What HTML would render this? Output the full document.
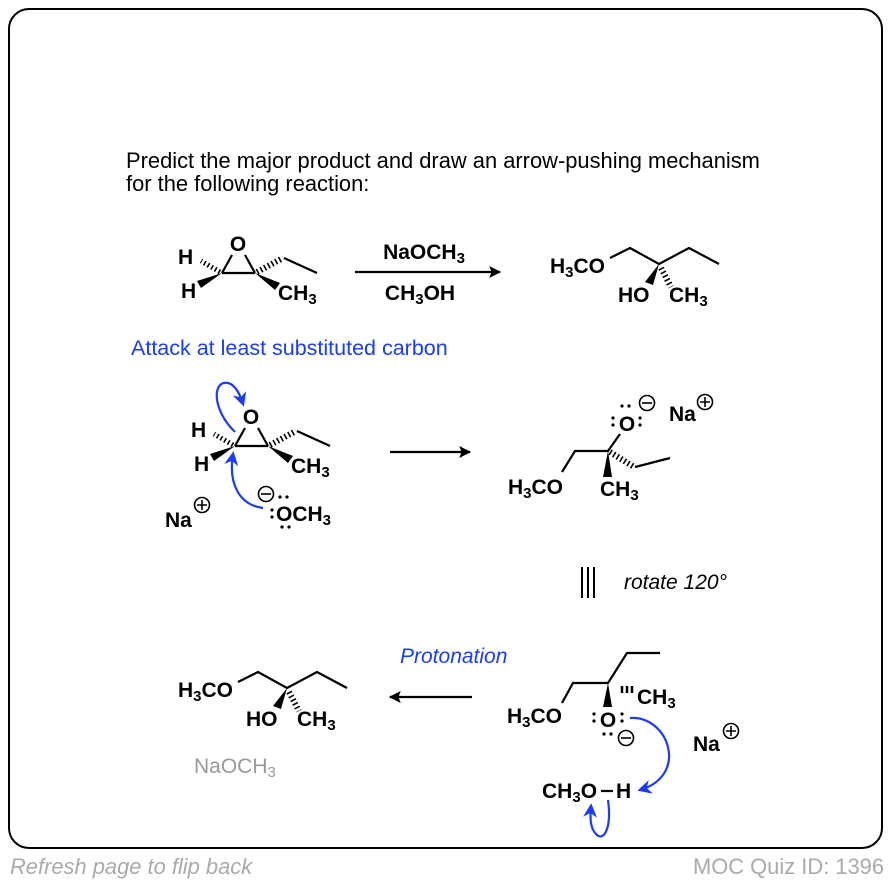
<!DOCTYPE html>
<html><head><meta charset="utf-8"><style>
html,body{margin:0;padding:0;background:#fff}
svg{display:block}
text{font-family:"Liberation Sans",Arial,sans-serif}
.b{font-weight:bold;font-size:21px;fill:#000}
.s{font-size:15px}
</style></head><body>
<svg width="890" height="882" viewBox="0 0 890 882" xmlns="http://www.w3.org/2000/svg">
<defs>
<marker id="ah" viewBox="0 0 10 10" refX="9" refY="5" markerWidth="16" markerHeight="12" orient="auto" markerUnits="userSpaceOnUse"><path d="M0,0 L10,5 L0,10 L2,5 z" fill="#000"/></marker>
<marker id="bh" viewBox="0 0 10 10" refX="8" refY="5" markerWidth="14" markerHeight="14" orient="auto" markerUnits="userSpaceOnUse"><path d="M0,0 L10,5 L0,10 L3,5 z" fill="#1a3cf5"/></marker>
<g id="epox">
<line x1="235" y1="446" x2="268" y2="446" stroke="#000" stroke-width="2.2"/>
<line x1="235" y1="446" x2="245" y2="428" stroke="#000" stroke-width="2.2"/>
<line x1="268" y1="446" x2="258" y2="428" stroke="#000" stroke-width="2.2"/>
<text x="251" y="424" class="b" text-anchor="middle">O</text>
<path d="M233,445 L214,434" stroke="#000" stroke-width="5" stroke-dasharray="1.6,2.6"/>
<polygon points="235,446 210,454 214,461" fill="#000"/>
<text x="191" y="437" class="b">H</text>
<text x="194" y="471" class="b">H</text>
<path d="M270,445 L296,431" stroke="#000" stroke-width="6" stroke-dasharray="1.6,2.6"/>
<line x1="297" y1="431" x2="330" y2="446" stroke="#000" stroke-width="2.2"/>
<polygon points="268,446 293,456 288,463" fill="#000"/>
<text x="291" y="473" class="b">CH<tspan class="s" dy="4">3</tspan></text>
</g>
<g id="prod">
<text x="178" y="697" class="b">H<tspan class="s" dy="4">3</tspan><tspan dy="-4">CO</tspan></text>
<polyline points="238,682 258,672 287,688 317,672 347,688" fill="none" stroke="#000" stroke-width="2.2"/>
<polygon points="287,688 273,706 281,709" fill="#000"/>
<path d="M289,692 L299,711" stroke="#000" stroke-width="6" stroke-dasharray="1.6,2.6"/>
<text x="246" y="726" class="b">HO</text>
<text x="297" y="726" class="b">CH<tspan class="s" dy="4">3</tspan></text>
</g>
</defs>
<rect x="9" y="9" width="873" height="839" rx="20" fill="none" stroke="#000" stroke-width="2"/>
<text x="126" y="168" font-size="21.9">Predict the major product and draw an arrow-pushing mechanism</text>
<text x="126" y="191" font-size="21.9">for the following reaction:</text>

<use href="#epox" transform="translate(-13,-173)"/>
<line x1="355" y1="272" x2="500" y2="272" stroke="#000" stroke-width="2.2" marker-end="url(#ah)"/>
<text x="424" y="259" class="b" text-anchor="middle">NaOCH<tspan class="s" dy="4">3</tspan></text>
<text x="420" y="300" class="b" text-anchor="middle">CH<tspan class="s" dy="4">3</tspan><tspan dy="-4">OH</tspan></text>
<use href="#prod" transform="translate(372,-424)"/>

<text x="131" y="355" font-size="21.5" fill="#1a3cf5">Attack at least substituted carbon</text>

<use href="#epox"/>
<path d="M235,432 C212,410 212,380 228,383 C236,385 240,395 243,404" fill="none" stroke="#1a3cf5" stroke-width="2.2" marker-end="url(#bh)"/>
<path d="M263,508 C240,505 228,485 233,454" fill="none" stroke="#1a3cf5" stroke-width="2.2" marker-end="url(#bh)"/>
<text x="165" y="527" class="b">Na</text>
<circle cx="202" cy="505" r="7.5" fill="none" stroke="#000" stroke-width="1.6"/><path d="M197,505h10M202,500v10" stroke="#000" stroke-width="1.6"/>
<circle cx="266" cy="494" r="7.5" fill="none" stroke="#000" stroke-width="1.6"/><path d="M261,494h10" stroke="#000" stroke-width="1.6"/>
<g fill="#000"><circle cx="280" cy="497" r="1.6"/><circle cx="287" cy="497" r="1.6"/><circle cx="272" cy="510" r="1.6"/><circle cx="272" cy="517" r="1.6"/><circle cx="282" cy="527" r="1.6"/><circle cx="289" cy="527" r="1.6"/></g>
<text x="276" y="521" class="b">OCH<tspan class="s" dy="4">3</tspan></text>

<line x1="390" y1="452" x2="470" y2="452" stroke="#000" stroke-width="2.2" marker-end="url(#ah)"/>

<text x="627" y="431" class="b" text-anchor="middle">O</text>
<g fill="#000"><circle cx="613" cy="418" r="1.6"/><circle cx="613" cy="425" r="1.6"/><circle cx="622" cy="406" r="1.6"/><circle cx="629" cy="406" r="1.6"/><circle cx="640" cy="418" r="1.6"/><circle cx="640" cy="425" r="1.6"/></g>
<circle cx="647" cy="403" r="7.5" fill="none" stroke="#000" stroke-width="1.6"/><path d="M642,403h10" stroke="#000" stroke-width="1.6"/>
<text x="669" y="421" class="b">Na</text>
<circle cx="705" cy="402" r="7.5" fill="none" stroke="#000" stroke-width="1.6"/><path d="M700,402h10M705,397v10" stroke="#000" stroke-width="1.6"/>
<polyline points="562,472 575,451 608,451 620,434" fill="none" stroke="#000" stroke-width="2.2"/>
<polygon points="608,451 603,477 612,477" fill="#000"/>
<path d="M610,452 L634,467" stroke="#000" stroke-width="6" stroke-dasharray="1.6,2.6"/>
<line x1="635" y1="467" x2="670" y2="458" stroke="#000" stroke-width="2.2"/>
<text x="508" y="494" class="b">H<tspan class="s" dy="4">3</tspan><tspan dy="-4">CO</tspan></text>
<text x="600" y="496" class="b">CH<tspan class="s" dy="4">3</tspan></text>

<path d="M582,567v31M588,567v31M594,567v31" stroke="#000" stroke-width="2"/>
<text x="624" y="589" font-size="21" font-style="italic">rotate 120°</text>

<text x="400" y="663" font-size="21" font-style="italic" fill="#1a3cf5">Protonation</text>
<use href="#prod"/>
<text x="194" y="773" font-size="21" fill="#999">NaOCH<tspan font-size="15" dy="4">3</tspan></text>
<line x1="472" y1="697" x2="390" y2="697" stroke="#000" stroke-width="2.2" marker-end="url(#ah)"/>

<polyline points="562,703 573,683 608,683 627,653 660,653" fill="none" stroke="#000" stroke-width="2.2"/>
<polygon points="608,683 603,707 612,707" fill="#000"/>
<path d="M622,686v7M627,686v7M632,686v7" stroke="#000" stroke-width="2.5"/>
<text x="507" y="723" class="b">H<tspan class="s" dy="4">3</tspan><tspan dy="-4">CO</tspan></text>
<text x="637" y="704" class="b">CH<tspan class="s" dy="4">3</tspan></text>
<text x="608" y="727" class="b" text-anchor="middle">O</text>
<g fill="#000"><circle cx="594" cy="714" r="1.6"/><circle cx="594" cy="721" r="1.6"/><circle cx="622" cy="714" r="1.6"/><circle cx="622" cy="721" r="1.6"/><circle cx="604" cy="734" r="1.6"/><circle cx="611" cy="734" r="1.6"/></g>
<circle cx="626" cy="738" r="7.5" fill="none" stroke="#000" stroke-width="1.6"/><path d="M621,738h10" stroke="#000" stroke-width="1.6"/>
<text x="693" y="751" class="b">Na</text>
<circle cx="731" cy="731" r="7.5" fill="none" stroke="#000" stroke-width="1.6"/><path d="M726,731h10M731,726v10" stroke="#000" stroke-width="1.6"/>
<path d="M630,718 C668,715 690,775 640,790" fill="none" stroke="#1a3cf5" stroke-width="2.2" marker-end="url(#bh)"/>
<text x="542" y="798" class="b">CH<tspan class="s" dy="4">3</tspan><tspan dy="-4">O</tspan></text>
<line x1="601" y1="791" x2="613" y2="791" stroke="#000" stroke-width="2.2"/>
<text x="616" y="798" class="b">H</text>
<path d="M608,800 C612,830 603,842 596,834 C590,828 590,818 591,806" fill="none" stroke="#1a3cf5" stroke-width="2.2" marker-end="url(#bh)"/>

<text x="10" y="874" font-size="21.9" font-style="italic" fill="#aaa">Refresh page to flip back</text>
<text x="884" y="874" font-size="21.9" fill="#aaa" text-anchor="end">MOC Quiz ID: 1396</text>
</svg>
</body></html>
